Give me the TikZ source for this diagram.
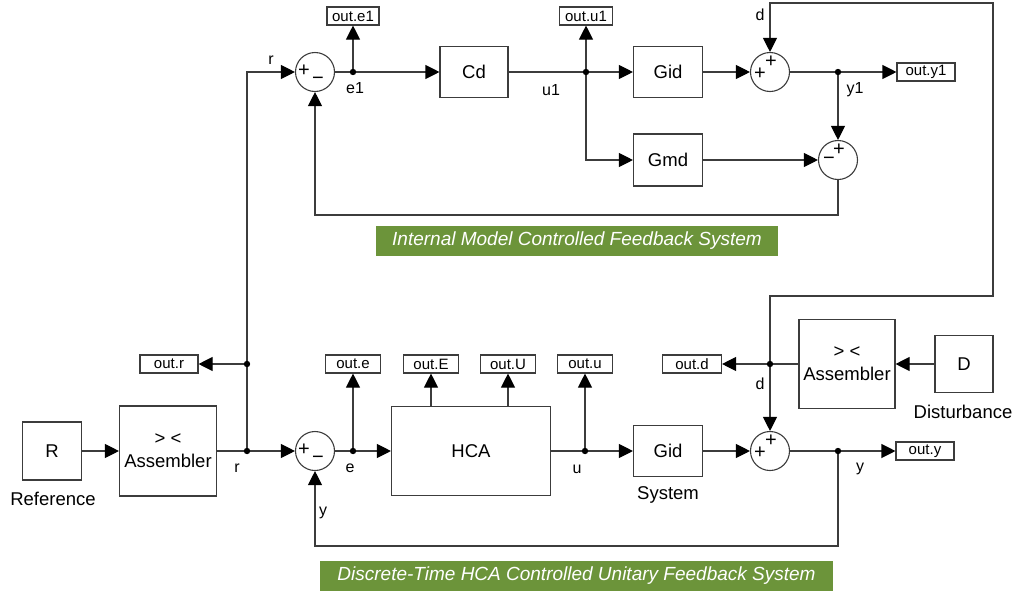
\documentclass[tikz,border=0pt]{standalone}
\usepackage{fontspec}
\setmainfont{Liberation Sans}
\usetikzlibrary{arrows.meta}

\definecolor{wireGrey}{RGB}{60,60,60}
\definecolor{captionGreen}{RGB}{108,148,58}

\tikzset{every picture/.style={line width=1.1pt}}
\tikzset{
  blk/.style={draw=wireGrey, inner sep=0pt, align=center, font=\fontsize{18.5}{23}\selectfont},
  outport/.style={draw=wireGrey, minimum width=55pt, minimum height=18pt, inner sep=0pt, font=\fontsize{15}{16}\selectfont},
  sum/.style={draw=wireGrey, circle, minimum size=39pt, inner sep=0pt},
  sgn/.style={inner sep=0pt, font=\fontsize{20}{20}\selectfont},
  sig/.style={inner sep=0pt, font=\fontsize{16}{18}\selectfont},
  wire/.style={draw=wireGrey},
  arr/.style={wire, -{Triangle[length=14pt,width=14pt,color=black]}},
  caption/.style={fill=captionGreen, text=white, minimum height=30pt, inner sep=0pt, font=\fontsize{19}{20}\selectfont\itshape},
  % summing junctions: sign of the left input first, then the second one
  sum pm/.style={sum, path picture={
      \node[sgn] at ([xshift=-11pt,yshift=1pt]path picture bounding box.center) {+};
      \node[sgn] at ([xshift=3pt,yshift=-9pt]path picture bounding box.center) {−};}},
  sum pp/.style={sum, path picture={
      \node[sgn] at ([xshift=-10pt,yshift=-2pt]path picture bounding box.center) {+};
      \node[sgn] at ([xshift=1pt,yshift=10pt]path picture bounding box.center) {+};}},
  sum mp/.style={sum, path picture={
      \node[sgn] at ([xshift=-9pt,yshift=-1pt]path picture bounding box.center) {−};
      \node[sgn] at ([xshift=1pt,yshift=10pt]path picture bounding box.center) {+};}},
}

\begin{document}
\begin{tikzpicture}[x=1pt,y=1pt,yscale=-1]
\useasboundingbox (0,0) rectangle (1018,595);

% Internal model loop
\node[sum pm] (s1) at (315,72) {};
\node[blk, minimum width=68pt, minimum height=51pt] (cd) at (474,72) {Cd};
\node[blk, minimum width=69pt, minimum height=51pt] (gid1) at (668,72) {Gid};
\node[blk, minimum width=69pt, minimum height=52pt] (gmd) at (668,160) {Gmd};
\node[sum pp] (s2) at (770,72) {};
\node[sum mp] (s3) at (838,160) {};
\node[outport, minimum width=52pt] (oe1) at (353,16) {out.e1};
\node[outport, minimum width=53pt] (ou1) at (586,16) {out.u1};
\node[outport, minimum width=58pt] (oy1) at (926,72) {out.y1};
\coordinate (e1) at (353,72);
\coordinate (u1) at (586,72);
\coordinate (y1) at (838,72);
\coordinate (fb1) at (838,215);
\coordinate (dTop) at (993,3);
\coordinate (dMid) at (993,296);

% HCA loop
\node[blk, minimum width=59pt, minimum height=58pt] (ref) at (52,451) {R};
\node[blk, minimum width=97pt, minimum height=90pt] (asm1) at (168,451) {> <\\Assembler};
\coordinate (rj) at (247,451);
\coordinate (rt) at (247,364);
\node[outport, minimum width=58pt] (or) at (169,364) {out.r};
\node[sum pm] (s4) at (315,451) {};
\coordinate (ej) at (353,451);
\node[outport] (oe) at (353,364) {out.e};
\node[blk, minimum width=159pt, minimum height=89pt] (hca) at (471,451) {HCA};
\node[outport] (oE) at (431,364) {out.E};
\node[outport] (oU) at (508,364) {out.U};
\coordinate (uj) at (585,451);
\node[outport] (ou) at (585,364) {out.u};
\node[blk, minimum width=69pt, minimum height=51pt] (gid2) at (668,451) {Gid};
\node[sum pp] (s5) at (770,451) {};
\coordinate (yj) at (838,451);
\node[outport, minimum width=58pt] (oy) at (925,451) {out.y};
\coordinate (dj) at (770,364);
\node[outport, minimum width=59pt] (od) at (692,364) {out.d};
\node[blk, minimum width=96pt, minimum height=89pt] (asm2) at (847,364) {> <\\Assembler};
\node[blk, minimum width=58pt, minimum height=57pt] (dist) at (964,364) {D};
\coordinate (fb2) at (838,546);

% Connection (top)
\draw[arr] (s1.east) -- (cd.west);
\draw[arr] (e1) -- (oe1.south);
\draw[arr] (cd.east) -- (gid1.west);
\draw[arr] (u1) -- (ou1.south);
\draw[arr] (u1) |- (gmd.west);
\draw[arr] (gid1.east) -- (s2.west);
\draw[arr] (s2.east) -- (oy1.west);
\draw[arr] (y1) -- (s3.north);
\draw[arr] (gmd.east) -- (s3.west);
\draw[arr] (s3.south) -- (fb1) -| (s1.south);
\draw[arr] (dj) |- (dMid) -- (dTop) -| (s2.north);

% Connection (bottom)
\draw[arr] (ref.east) -- (asm1.west);
\draw[arr] (asm1.east) -- (s4.west);
\draw[arr] (rj) -- (rt) |- (s1.west);
\draw[arr] (rt) -- (or.east);
\draw[arr] (s4.east) -- (hca.west);
\draw[arr] (ej) -- (oe.south);
\draw[arr] (hca.north -| oE) -- (oE.south);
\draw[arr] (hca.north -| oU) -- (oU.south);
\draw[arr] (hca.east) -- (gid2.west);
\draw[arr] (uj) -- (ou.south);
\draw[arr] (gid2.east) -- (s5.west);
\draw[arr] (s5.east) -- (oy.west);
\draw[arr] (yj) -- (fb2) -| (s4.south);
\draw[arr] (dist.west) -- (asm2.east);
\draw[wire] (asm2.west) -- (dj);
\draw[arr] (dj) -- (od.east);
\draw[arr] (dj) -- (s5.north);

% branch points
\foreach \j in {e1,u1,y1,rj,rt,ej,uj,yj,dj}
  \fill[black] (\j) circle (3.2);

% Signal names
\node[sig] (lr1) at (271,60) {r};
\node[sig] (le1) at (355,88) {e1};
\node[sig] (lu1) at (551,90) {u1};
\node[sig] (ld1) at (760,15) {d};
\node[sig] (ly1) at (855,90) {y1};
\node[sig] (lr2) at (237,468) {r};
\node[sig] (le2) at (350,468) {e};
\node[sig] (lu2) at (577,469) {u};
\node[sig] (ly2) at (860,469) {y};
\node[sig] (ly3) at (323,513) {y};
\node[sig] (ld2) at (760,384) {d};

% Block names
\node[inner sep=0pt, font=\fontsize{18.5}{20}\selectfont] (nref) at (53,499) {Reference};
\node[inner sep=0pt, font=\fontsize{18.5}{20}\selectfont] (nsys) at (668,495) {System};
\node[inner sep=0pt, font=\fontsize{18.5}{20}\selectfont] (ndist) at (963,412) {Disturbance};

% Captions
\node[caption, minimum width=402pt] (capIMC) at (577,241) {Internal Model Controlled Feedback System};
\node[caption, minimum width=513pt] (capHCA) at (576.5,576) {Discrete-Time HCA Controlled Unitary Feedback System};

\end{tikzpicture}
\end{document}
